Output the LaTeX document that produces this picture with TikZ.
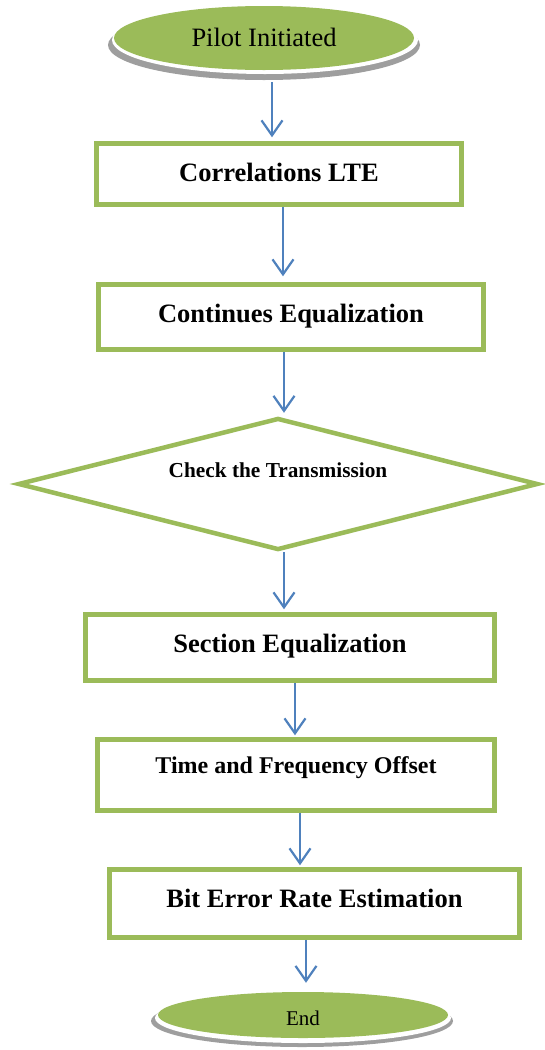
\documentclass[tikz,border=0pt]{standalone}
\usepackage{fontspec}
\setmainfont{Liberation Serif}
\usetikzlibrary{shapes.geometric,arrows.meta}
\definecolor{lgreen}{HTML}{9BBB59}
\definecolor{lblue}{HTML}{4F81BD}
\tikzset{
  procbox/.style={rectangle, draw=lgreen, line width=4.5pt, fill=white, inner sep=0pt,
    align=center, font=\fontsize{26.5}{30}\selectfont\bfseries},
  decbox/.style={diamond, aspect=4, draw=lgreen, line width=4.5pt, fill=white, inner sep=0pt,
    align=center, font=\fontsize{21.3}{24}\selectfont\bfseries},
  flowarr/.style={draw=lblue, line width=2.2pt,
    -{Straight Barb[length=15pt,width=21pt]}},
  termfill/.style={ellipse, fill=lgreen, inner sep=0pt},
  termwhite/.style={ellipse, fill=white, inner sep=0pt},
  termshadow/.style={ellipse, fill=black!38, inner sep=0pt},
}
\begin{document}
\begin{tikzpicture}[x=1pt,y=-1pt]
\useasboundingbox (0,0) rectangle (544,1050);
% start terminal
\node[termshadow, minimum width=312pt, minimum height=70pt] (pilotsh) at (264,45) {};
\node[termwhite, minimum width=306pt, minimum height=68pt] (pilotwh) at (265,40) {};
\node[termfill, minimum width=300pt, minimum height=64pt,
  font=\fontsize{26.5}{30}\selectfont, text height=16pt, text depth=0pt] (pilot) at (264,38) {Pilot Initiated};
% process boxes
\node[procbox, minimum width=365pt, minimum height=61pt, text height=14pt, text depth=0pt] (b1) at (279,174) {Correlations LTE};
\node[procbox, minimum width=385pt, minimum height=65pt, text height=10pt, text depth=0pt] (b2) at (291,317) {Continues Equalization};
\node[decbox, minimum width=520pt, minimum height=132pt, text height=0pt, text depth=14pt] (dia) at (278,484) {Check the Transmission};
\node[procbox, minimum width=409pt, minimum height=66pt, text height=9pt, text depth=0pt] (b4) at (290,647.5) {Section Equalization};
\node[procbox, minimum width=397pt, minimum height=71pt, text height=0pt, text depth=4pt,
  font=\fontsize{24}{28}\selectfont\bfseries] (b5) at (296,775) {Time and Frequency Offset};
\node[procbox, minimum width=410pt, minimum height=68pt, text height=7pt, text depth=0pt] (b6) at (314.5,903.5) {Bit Error Rate Estimation};
% end terminal
\node[termshadow, minimum width=302pt, minimum height=52pt] (endsh) at (302,1021) {};
\node[termwhite, minimum width=296pt, minimum height=50pt] (endwh) at (303,1018) {};
\node[termfill, minimum width=290pt, minimum height=46pt,
  font=\fontsize{21}{24}\selectfont, text height=20pt, text depth=0pt] (endn) at (303,1015) {End};
% connectors
\draw[flowarr, shorten <=2pt, shorten >=4pt] (pilotsh.south -| 272,0) -- (b1.north -| 272,0);
\draw[flowarr, shorten >=6pt] (b1.south -| 283,0) -- (b2.north -| 283,0);
\draw[flowarr, shorten >=3pt] (b2.south -| 284,0) -- (dia.north -| 284,0);
\draw[flowarr, shorten >=3pt] (dia.south -| 284,0) -- (b4.north -| 284,0);
\draw[flowarr, shorten >=2pt] (b4.south -| 295,0) -- (b5.north -| 295,0);
\draw[flowarr, shorten >=2pt] (b5.south -| 300,0) -- (b6.north -| 300,0);
\draw[flowarr, shorten >=9pt] (b6.south -| 306,0) -- (endn.north -| 306,0);
\end{tikzpicture}
\end{document}
